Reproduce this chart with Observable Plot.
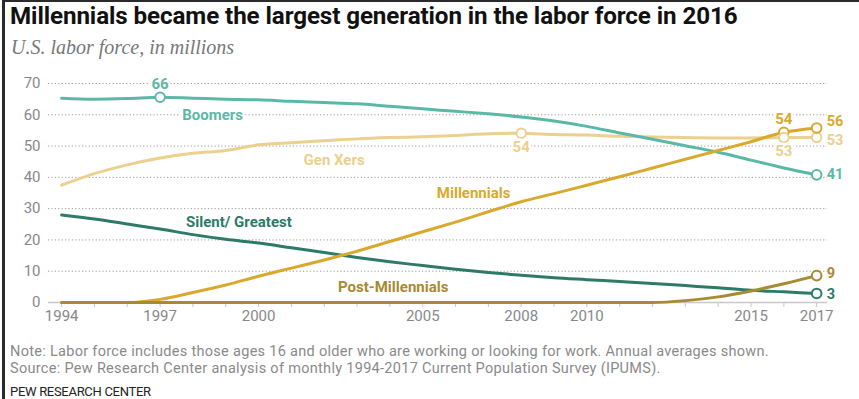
<!DOCTYPE html>
<html>
<head>
<meta charset="utf-8">
<script src="https://cdn.jsdelivr.net/npm/d3@7"></script>
<script src="https://cdn.jsdelivr.net/npm/@observablehq/plot@0.6"></script>
<style>
  html, body { margin: 0; padding: 0; background: #fff; }
  body { width: 859px; height: 399px; position: relative; overflow: hidden; font-family: Roboto, "Liberation Sans", sans-serif; }
  #bl { position: absolute; left: 2px; top: 0; width: 3px; height: 399px; background: #2a2a2a; }
  #bt { position: absolute; left: 2px; top: 0; width: 857px; height: 2px; background: #2a2a2a; }
  #title { position: absolute; left: 10px; top: 2px; font-size: 24.2px; line-height: 28px; font-weight: 700; color: #111; white-space: nowrap; letter-spacing: -0.1px; }
  #sub { position: absolute; left: 11px; top: 36px; font-family: "Liberation Serif", "DejaVu Serif", serif; font-style: italic; font-size: 20px; line-height: 22px; color: #777; white-space: nowrap; }
  #chart { position: absolute; left: 0; top: 62px; }
  .note { position: absolute; left: 10px; font-size: 14.5px; line-height: 17px; letter-spacing: 0.3px; color: #8a8a8a; white-space: nowrap; }
  #pew { position: absolute; left: 10px; top: 384px; font-size: 13px; line-height: 15px; letter-spacing: -0.3px; color: #222; white-space: nowrap; }
</style>
</head>
<body>
<div id="bl"></div><div id="bt"></div>
<div id="title">Millennials became the largest generation in the labor force in 2016</div>
<div id="sub">U.S. labor force, in millions</div>
<div id="chart"></div>
<div class="note" style="top:343px">Note: Labor force includes those ages 16 and older who are working or looking for work. Annual averages shown.</div>
<div class="note" style="top:360px">Source: Pew Research Center analysis of monthly 1994-2017 Current Population Survey (IPUMS).</div>
<div id="pew">PEW RESEARCH CENTER</div>
<script>
const years = d3.range(1994, 2018);
const boomers =   [65.3,65.0,65.2,65.6,65.3,65.0,64.8,64.3,63.9,63.5,62.7,61.9,61.1,60.3,59.3,58.0,56.3,54.2,52.2,50.1,48.0,45.5,43.0,40.8];
const genXers =   [37.5,41.2,44.0,46.2,47.7,48.6,50.4,51.1,51.7,52.3,52.7,53.0,53.4,53.9,54.1,53.7,53.5,53.1,52.9,52.7,52.6,52.6,52.7,52.8];
const millennials=[0,0,0,1.0,3.2,5.6,8.4,11.0,13.6,16.4,19.5,22.6,25.7,29.0,32.2,34.8,37.5,40.2,43.0,45.8,48.6,51.4,54.4,55.8];
const silent =    [28.0,26.7,25.1,23.5,21.7,20.2,19.0,17.5,16.0,14.4,13.0,11.8,10.6,9.6,8.7,7.9,7.3,6.7,6.1,5.4,4.7,3.9,3.4,2.9];
const postMill =  [0,0,0,0,0,0,0,0,0,0,0,0,0,0,0,0,0,0,0,0.6,1.8,3.7,6.0,8.6];

const seriesNames = ["Gen Xers","Boomers","Silent/ Greatest","Millennials","Post-Millennials"];
const seriesValues = [genXers, boomers, silent, millennials, postMill];
const colors = ["#ebd08e","#5cb8a6","#2d7a67","#d9a92e","#a88a32"];

const labeledYears = [1994, 1997, 2000, 2005, 2008, 2010, 2015, 2017];
const yTicks = [0,10,20,30,40,50,60,70];

// highlighted points: [series, year]
const markedPoints = [["Boomers",1997],["Gen Xers",2008],["Millennials",2016],["Gen Xers",2016],
  ["Boomers",2017],["Gen Xers",2017],["Millennials",2017],["Silent/ Greatest",2017],["Post-Millennials",2017]];

// series name labels: [text, series, year, value]
const nameLabels = [["Boomers","Boomers",1998.6,60.0],["Gen Xers","Gen Xers",2002.3,45.4],["Millennials","Millennials",2006.55,34.8],
  ["Silent/ Greatest","Silent/ Greatest",1999.4,25.6],["Post-Millennials","Post-Millennials",2004.1,4.8]];
// value labels: [text, series, year, value, placement]
const valueLabels = [["66","Boomers",1997,65.6,"above"],["54","Gen Xers",2008,54.1,"below"],["54","Millennials",2016,54.4,"above"],
  ["53","Gen Xers",2016,52.7,"below"],["56","Millennials",2017,58.0,"right"],["53","Gen Xers",2017,51.9,"right"],
  ["41","Boomers",2017,40.8,"right"],["9","Post-Millennials",2017,9.3,"right"],["3","Silent/ Greatest",2017,2.6,"right"]];

const rows = [];
seriesNames.forEach((s, i) => years.forEach((yr, j) => rows.push({series: s, year: yr, value: seriesValues[i][j]})));
const lookup = (s, yr) => seriesValues[seriesNames.indexOf(s)][years.indexOf(yr)];
const pts = markedPoints.map(([s, yr]) => ({series: s, year: yr, value: lookup(s, yr)}));
const names = nameLabels.map(([t, s, yr, v]) => ({text: t, series: s, year: yr, value: v}));
const vals = valueLabels.map(([t, s, yr, v, p]) => ({text: t, series: s, year: yr, value: v, p}));

const colorScale = {domain: seriesNames, range: colors};
const font = "Roboto, 'Liberation Sans', sans-serif";

const chart = Plot.plot({
  width: 859, height: 270,
  marginLeft: 48, marginRight: 32, marginTop: 21, marginBottom: 30,
  x: {domain: [1993.6, 2017.33]},
  y: {domain: [0, 70]},
  color: colorScale,
  style: {fontFamily: font, background: "transparent"},
  marks: [
    Plot.gridY(yTicks, {stroke: "#9a9a9a", strokeOpacity: 1, strokeDasharray: "1.2,2.2", strokeWidth: 1}),
    Plot.ruleY([0], {stroke: "#c8c8c8", strokeWidth: 1.5}),
    Plot.axisY(yTicks, {tickSize: 0, tickPadding: 8, fontSize: 15, fill: "#888", label: null}),
    Plot.axisX(years, {tickSize: 5, stroke: "#c8c8c8", tickPadding: 3, fontSize: 15, fill: "#888", label: null,
      tickFormat: d => labeledYears.includes(d) ? String(d) : ""}),
    Plot.lineY(rows, {x: "year", y: "value", z: "series", stroke: "series", strokeWidth: 3, curve: "monotone-x"}),
    Plot.dot(pts, {x: "year", y: "value", stroke: "series", fill: "white", r: 4.8, strokeWidth: 2}),
    Plot.text(names, {x: "year", y: "value", text: "text", fill: "series", fontSize: 15, fontWeight: 700,
      stroke: "white", strokeWidth: 5, paintOrder: "stroke"}),
    Plot.text(vals.filter(d => d.p === "above"), {x: "year", y: "value", text: "text", fill: "series", dy: -13,
      fontSize: 15, fontWeight: 700, stroke: "white", strokeWidth: 5, paintOrder: "stroke"}),
    Plot.text(vals.filter(d => d.p === "below"), {x: "year", y: "value", text: "text", fill: "series", dy: 14,
      fontSize: 15, fontWeight: 700, stroke: "white", strokeWidth: 5, paintOrder: "stroke"}),
    Plot.text(vals.filter(d => d.p === "right"), {x: "year", y: "value", text: "text", fill: "series", dx: 10,
      textAnchor: "start", fontSize: 14.5, fontWeight: 700})
  ]
});
document.getElementById("chart").appendChild(chart);
</script>
</body>
</html>
